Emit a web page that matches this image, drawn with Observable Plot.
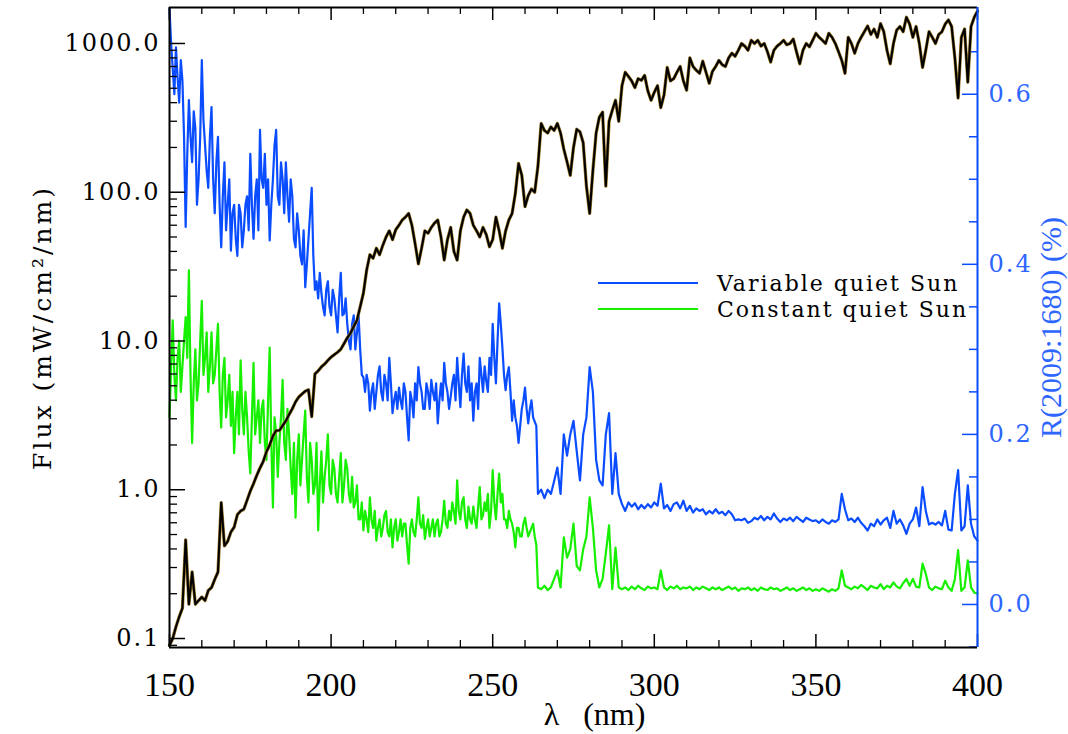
<!DOCTYPE html>
<html><head><meta charset="utf-8">
<script src="https://cdn.jsdelivr.net/npm/d3@7"></script>
<script src="https://cdn.jsdelivr.net/npm/@observablehq/plot@0.6"></script>
<style>
html,body{margin:0;padding:0;background:#fff;}
#wrap{position:relative;width:1068px;height:734px;overflow:hidden;background:#fff;}
#wrap > svg{position:absolute;left:0;top:0;background:transparent;}
g[aria-label="y-axis tick label"] text{letter-spacing:2px;}
</style></head><body><div id="wrap"></div>
<script>
// ---- data ----
const lambdaStart = 150, lambdaEnd = 400; // nm, 1 nm grid
const midStart = 150.5, midEnd = 263.5;   // extra half-nm samples in the noisy UV part
const flux = [ // mW/cm2/nm, 150..400
  0.09,0.10,0.12,0.14,0.16,0.46,0.17,0.28,0.17,0.18,
  0.19,0.18,0.21,0.22,0.25,0.28,0.82,0.42,0.45,0.52,
  0.56,0.68,0.72,0.74,0.85,0.98,1.1,1.25,1.4,1.55,
  1.8,2.0,2.3,2.5,2.5,2.7,2.9,3.2,3.5,3.9,
  4.2,4.4,4.6,4.7,3.1,6.0,6.3,6.7,7.0,7.4,
  7.8,8.1,8.4,8.8,9.6,10.5,11.3,12.5,13.8,17,
  21,30,38,36,42,38,44,50,55,48,
  56,60,65,68,72,60,45,33,42,55,
  53,58,62,65,50,35,48,58,40,35,
  55,68,76,72,60,55,50,58,52,43,
  48,68,55,42,55,65,72,98,156,130,
  80,95,105,100,150,290,260,250,275,260,
  290,250,195,160,130,200,265,255,215,110,
  72,140,250,320,345,110,300,355,415,300,
  520,640,600,560,505,580,565,610,480,415,
  470,520,370,450,690,560,580,640,700,560,
  485,800,700,660,630,760,640,540,650,700,
  770,720,700,800,860,820,900,1000,960,900,
  1050,1000,1050,960,1000,880,750,900,960,1000,
  1050,980,1000,1070,880,730,900,1000,950,1050,
  1170,1100,1050,1000,1170,1100,1000,880,770,630,
  1100,1000,860,1000,1100,1200,1310,1150,1250,1100,
  1360,1200,900,730,1000,1230,1300,1200,1500,1350,
  1100,1300,1000,690,900,1200,1100,1000,1150,1200,
  1350,1440,1300,800,430,1100,1250,550,1300,1500,
  1650
];
const variableQuietSun = [ // R(2009:1680) %, 150..400
  0.70,0.63,0.655,0.59,0.616,0.444,0.593,0.52,0.56,0.50,
  0.64,0.54,0.49,0.585,0.46,0.55,0.42,0.52,0.47,0.416,
  0.47,0.41,0.46,0.44,0.48,0.53,0.43,0.50,0.558,0.49,
  0.47,0.428,0.50,0.558,0.47,0.50,0.52,0.45,0.48,0.42,
  0.44,0.40,0.373,0.43,0.49,0.37,0.36,0.366,0.34,0.38,
  0.34,0.36,0.32,0.39,0.342,0.33,0.30,0.34,0.32,0.30,
  0.267,0.27,0.228,0.26,0.25,0.28,0.24,0.26,0.29,0.225,
  0.25,0.255,0.23,0.25,0.193,0.24,0.26,0.279,0.25,0.23,
  0.25,0.264,0.24,0.213,0.26,0.284,0.25,0.244,0.27,0.29,
  0.232,0.295,0.25,0.24,0.216,0.26,0.29,0.25,0.263,0.29,
  0.33,0.26,0.354,0.302,0.252,0.279,0.216,0.22,0.19,0.23,
  0.255,0.213,0.24,0.215,0.13,0.135,0.125,0.135,0.13,0.145,
  0.161,0.13,0.2,0.175,0.20,0.216,0.18,0.146,0.2,0.22,
  0.279,0.25,0.17,0.146,0.14,0.20,0.225,0.13,0.178,0.13,
  0.118,0.11,0.12,0.115,0.119,0.112,0.117,0.113,0.118,0.114,
  0.12,0.116,0.142,0.113,0.117,0.11,0.118,0.12,0.113,0.122,
  0.11,0.116,0.108,0.113,0.11,0.112,0.106,0.11,0.107,0.112,
  0.107,0.109,0.105,0.11,0.106,0.099,0.1,0.099,0.101,0.096,
  0.098,0.102,0.1,0.104,0.099,0.103,0.1,0.107,0.101,0.097,
  0.101,0.099,0.102,0.098,0.103,0.1,0.097,0.102,0.1,0.098,
  0.099,0.096,0.1,0.097,0.095,0.099,0.097,0.1,0.13,0.112,
  0.099,0.101,0.097,0.102,0.096,0.092,0.087,0.095,0.092,0.1,
  0.094,0.099,0.102,0.09,0.11,0.095,0.1,0.093,0.083,0.095,
  0.1,0.114,0.092,0.138,0.11,0.094,0.096,0.094,0.097,0.093,
  0.11,0.088,0.087,0.13,0.158,0.087,0.092,0.14,0.095,0.08,
  0.075
];
const variableQuietSunMid = [ // 150.5..263.5
  0.66,0.60,0.62,0.64,0.55,0.53,0.55,0.58,0.47,0.55,
  0.57,0.51,0.55,0.50,0.52,0.47,0.48,0.44,0.50,0.46,
  0.43,0.47,0.42,0.47,0.44,0.47,0.48,0.44,0.50,0.53,
  0.50,0.47,0.54,0.48,0.52,0.46,0.48,0.50,0.43,0.46,
  0.41,0.44,0.40,0.46,0.41,0.38,0.39,0.35,0.37,0.35,
  0.37,0.34,0.36,0.34,0.36,0.31,0.33,0.30,0.34,0.27,
  0.25,0.26,0.25,0.23,0.27,0.25,0.27,0.24,0.26,0.24,
  0.23,0.24,0.26,0.22,0.25,0.22,0.24,0.26,0.23,0.26,
  0.23,0.25,0.26,0.24,0.24,0.26,0.23,0.26,0.24,0.26,
  0.27,0.26,0.28,0.26,0.25,0.23,0.27,0.28,0.25,0.27,
  0.29,0.31,0.33,0.27,0.27,0.25,0.24,0.21,0.21,0.24,
  0.23,0.23,0.22,0.21
];
const constantQuietSun = [ // R(2009:1680) %, 150..400
  0.22,0.334,0.24,0.31,0.28,0.338,0.393,0.19,0.3,0.26,
  0.357,0.29,0.25,0.32,0.27,0.33,0.208,0.29,0.24,0.21,
  0.178,0.25,0.287,0.2,0.22,0.154,0.284,0.22,0.19,0.24,
  0.17,0.302,0.114,0.2,0.19,0.264,0.17,0.2,0.13,0.102,
  0.2,0.17,0.228,0.12,0.17,0.14,0.087,0.18,0.15,0.2,
  0.13,0.16,0.12,0.178,0.14,0.16,0.12,0.114,0.14,0.1,
  0.087,0.1,0.126,0.09,0.075,0.1,0.09,0.11,0.08,0.067,
  0.1,0.085,0.08,0.095,0.048,0.1,0.08,0.126,0.09,0.077,
  0.1,0.09,0.08,0.1,0.085,0.122,0.09,0.099,0.11,0.146,
  0.1,0.126,0.09,0.1,0.115,0.09,0.138,0.105,0.11,0.09,
  0.158,0.1,0.154,0.13,0.1,0.11,0.095,0.067,0.09,0.08,
  0.102,0.08,0.09,0.08,0.02,0.018,0.022,0.017,0.02,0.03,
  0.04,0.02,0.079,0.055,0.065,0.095,0.045,0.04,0.065,0.08,
  0.126,0.09,0.04,0.02,0.03,0.06,0.093,0.018,0.067,0.02,
  0.018,0.02,0.017,0.021,0.018,0.022,0.019,0.017,0.021,0.019,
  0.02,0.018,0.04,0.02,0.017,0.021,0.019,0.022,0.018,0.02,
  0.019,0.021,0.017,0.02,0.018,0.021,0.019,0.017,0.02,0.018,
  0.02,0.017,0.019,0.021,0.018,0.02,0.016,0.019,0.018,0.02,
  0.017,0.019,0.016,0.02,0.018,0.017,0.02,0.018,0.019,0.016,
  0.018,0.02,0.017,0.019,0.016,0.018,0.02,0.017,0.019,0.016,
  0.018,0.016,0.019,0.017,0.015,0.018,0.016,0.019,0.04,0.022,
  0.02,0.018,0.021,0.019,0.023,0.02,0.017,0.022,0.02,0.019,
  0.024,0.018,0.022,0.02,0.026,0.021,0.019,0.025,0.03,0.022,
  0.03,0.021,0.02,0.048,0.036,0.02,0.017,0.021,0.019,0.018,
  0.028,0.02,0.016,0.03,0.064,0.016,0.02,0.052,0.02,0.014,
  0.013
];
const constantQuietSunMid = [ // 150.5..263.5
  0.28,0.27,0.29,0.25,0.31,0.29,0.27,0.26,0.24,0.31,
  0.27,0.32,0.28,0.26,0.30,0.25,0.27,0.22,0.27,0.25,
  0.22,0.20,0.23,0.25,0.18,0.22,0.20,0.24,0.23,0.19,
  0.24,0.19,0.22,0.15,0.22,0.19,0.23,0.16,0.19,0.17,
  0.14,0.20,0.15,0.19,0.13,0.19,0.14,0.12,0.17,0.14,
  0.17,0.13,0.15,0.12,0.17,0.13,0.15,0.12,0.10,0.12,
  0.11,0.085,0.10,0.11,0.09,0.08,0.105,0.085,0.10,0.09,
  0.075,0.10,0.095,0.07,0.09,0.085,0.10,0.095,0.105,0.09,
  0.08,0.10,0.095,0.08,0.10,0.095,0.11,0.12,0.095,0.11,
  0.12,0.10,0.115,0.095,0.10,0.115,0.10,0.12,0.13,0.11,
  0.12,0.13,0.12,0.10,0.09,0.10,0.085,0.09,0.08,0.095,
  0.09,0.085,0.095,0.07
];
const xTickValues = [150, 200, 250, 300, 350, 400];
const fluxTickValues = [0.1, 1, 10, 100, 1000];
const rTickValues = [0.0, 0.2, 0.4, 0.6];
const xDomain = [150, 400];
const fluxDomain = [0.087, 1745];
const rDomain = [-0.0506, 0.702];
const seriesNames = ["Variable quiet Sun", "Constant quiet Sun"];
const xTitle = "λ\u00a0\u00a0\u00a0(nm)";
const yTitle = "Flux (mW/cm²/nm)";
const rTitle = "R(2009:1680) (%)";

// ---- build ----
const wavelength = d3.range(lambdaStart, lambdaEnd + 1);
const fluxRows = wavelength.map((l, i) => ({lambda: l, flux: flux[i]}));
const midWavelength = d3.range(midStart, midEnd + 0.01, 1);
const rRows = wavelength.map((l, i) => ({lambda: l, varR: variableQuietSun[i], constR: constantQuietSun[i]}))
  .concat(midWavelength.map((l, i) => ({lambda: l, varR: variableQuietSunMid[i], constR: constantQuietSunMid[i]})))
  .sort((a, b) => a.lambda - b.lambda);

const W = 1068, H = 734, mL = 169, mR = 91, mT = 7, mB = 87;
const fw = W - mL - mR, fh = H - mT - mB;
const BLUE = "#0a4cff", BLUE_TXT = "#2d66ff", GREEN = "#16f000";
const xMinor = d3.range(xDomain[0], xDomain[1] + 1, 10).filter(v => v % 50 !== 0);
const fluxMinor = [];
for (let e = -2; e <= 3; e++) for (let m = 2; m <= 9; m++) { const v = m * Math.pow(10, e); if (v > fluxDomain[0] && v < fluxDomain[1]) fluxMinor.push(v); }
const rMinor = d3.range(-0.05, 0.70, 0.05).map(v => +v.toFixed(2)).filter(v => Math.abs((v * 10) % 2) > 0.01 && v > rDomain[0] && v < rDomain[1]);

const common = {width: W, height: H, marginLeft: mL, marginRight: mR, marginTop: mT, marginBottom: mB,
  style: {background: "transparent", overflow: "visible"}};

const rPlot = Plot.plot({
  ...common,
  x: {domain: xDomain, axis: null},
  y: {domain: rDomain, axis: null},
  marks: [
    Plot.line(rRows, {x: "lambda", y: "constR", stroke: GREEN, strokeWidth: 2.2}),
    Plot.line(rRows, {x: "lambda", y: "varR", stroke: BLUE, strokeWidth: 2.2}),
    Plot.tickY(rMinor, {y: d => d, stroke: BLUE, strokeWidth: 1.5, insetLeft: fw - 8}),
    Plot.tickY(rTickValues, {y: d => d, stroke: BLUE, strokeWidth: 1.5, insetLeft: fw - 15}),
    Plot.axisY({anchor: "right", ticks: rTickValues, tickSize: 0, tickPadding: 11, tickFormat: d3.format(".1f"),
      color: BLUE_TXT, fontFamily: "DejaVu Serif", fontSize: 24, label: null}),
    Plot.text([rTitle], {frameAnchor: "right", dx: 74, rotate: -90, text: d => d, fill: BLUE_TXT,
      textAnchor: "middle", lineAnchor: "middle", fontFamily: "Liberation Serif", fontSize: 30})
  ]
});

const fPlot = Plot.plot({
  ...common,
  x: {domain: xDomain, axis: null},
  y: {type: "log", domain: fluxDomain, axis: null},
  marks: [
    Plot.line(fluxRows, {x: "lambda", y: "flux", stroke: "#a07c2a", strokeWidth: 3.3}),
    Plot.line(fluxRows, {x: "lambda", y: "flux", stroke: "#000", strokeWidth: 2.1}),
    Plot.tickX(xMinor, {x: d => d, stroke: "#000", strokeWidth: 1.3, insetTop: fh - 7}),
    Plot.tickX(xTickValues, {x: d => d, stroke: "#000", strokeWidth: 1.5, insetTop: fh - 13}),
    Plot.tickX(xMinor, {x: d => d, stroke: "#000", strokeWidth: 1.3, insetBottom: fh - 7}),
    Plot.tickX(xTickValues, {x: d => d, stroke: "#000", strokeWidth: 1.5, insetBottom: fh - 13}),
    Plot.tickY(fluxMinor, {y: d => d, stroke: "#000", strokeWidth: 1.3, insetRight: fw - 8}),
    Plot.tickY(fluxTickValues, {y: d => d, stroke: "#000", strokeWidth: 1.5, insetRight: fw - 16}),
    Plot.ruleY([fluxDomain[0]], {stroke: "#000", strokeWidth: 2}),
    Plot.ruleY([fluxDomain[1]], {stroke: "#000", strokeWidth: 2}),
    Plot.ruleX([xDomain[0]], {stroke: "#000", strokeWidth: 2}),
    Plot.ruleX([xDomain[1]], {stroke: BLUE, strokeWidth: 2}),
    Plot.axisX({ticks: xTickValues, tickSize: 0, tickPadding: 24, tickFormat: d => String(d),
      fontFamily: "Liberation Serif", fontSize: 34, label: null}),
    Plot.axisY({ticks: fluxTickValues, tickSize: 0, tickPadding: 9, tickFormat: d3.format(".1f"),
      fontFamily: "DejaVu Serif", fontSize: 24, label: null}),
    Plot.text([xTitle], {frameAnchor: "bottom", dx: 21, dy: 67, text: d => d, fill: "#000",
      textAnchor: "middle", lineAnchor: "middle", fontFamily: "Liberation Serif", fontSize: 32}),
    Plot.text([yTitle], {frameAnchor: "left", dx: -127, rotate: -90, text: d => d, fill: "#000",
      textAnchor: "middle", lineAnchor: "middle", fontFamily: "DejaVu Serif", fontSize: 25})
  ]
});
fPlot.querySelectorAll("text").forEach(t => { if (t.textContent === yTitle) t.style.letterSpacing = "3px"; });

const wrap = document.getElementById("wrap");
wrap.appendChild(rPlot);
wrap.appendChild(fPlot);

// legend
const ns = "http://www.w3.org/2000/svg";
const leg = document.createElementNS(ns, "svg");
leg.setAttribute("width", W); leg.setAttribute("height", H);
const legColors = [BLUE, GREEN];
const legY = [283, 309];
seriesNames.forEach((name, i) => {
  const ln = document.createElementNS(ns, "line");
  ln.setAttribute("x1", 598); ln.setAttribute("x2", 698);
  ln.setAttribute("y1", legY[i]); ln.setAttribute("y2", legY[i]);
  ln.setAttribute("stroke", legColors[i]); ln.setAttribute("stroke-width", 2);
  leg.appendChild(ln);
  const tx = document.createElementNS(ns, "text");
  tx.setAttribute("x", 717); tx.setAttribute("y", legY[i]); tx.setAttribute("dy", "0.36em");
  tx.setAttribute("font-family", "DejaVu Serif"); tx.setAttribute("font-size", 22);
  tx.setAttribute("letter-spacing", "2px"); tx.setAttribute("fill", "#000");
  tx.textContent = name;
  leg.appendChild(tx);
});
wrap.appendChild(leg);
</script></body></html>
